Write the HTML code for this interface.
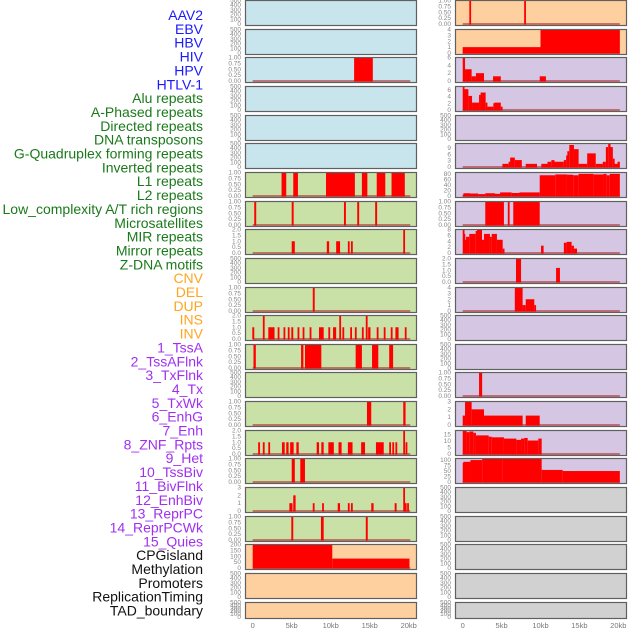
<!DOCTYPE html>
<html><head><meta charset="utf-8"><style>
html,body{margin:0;padding:0;background:#fff;}
#wrap{position:relative;width:630px;height:630px;overflow:hidden;}
svg{position:absolute;left:0;top:0;}
text{font-family:"Liberation Sans",sans-serif;}
</style></head><body>
<div id="wrap">
<svg id="chart" width="630" height="630" viewBox="0 0 630 630"></svg>
</div>
<script>
// ---- data ----
const trackLabels = ["AAV2","EBV","HBV","HIV","HPV","HTLV-1","Alu repeats","A-Phased repeats","Directed repeats","DNA transposons","G-Quadruplex forming repeats","Inverted repeats","L1 repeats","L2 repeats","Low_complexity A/T rich regions","Microsatellites","MIR repeats","Mirror repeats","Z-DNA motifs","CNV","DEL","DUP","INS","INV","1_TssA","2_TssAFlnk","3_TxFlnk","4_Tx","5_TxWk","6_EnhG","7_Enh","8_ZNF_Rpts","9_Het","10_TssBiv","11_BivFlnk","12_EnhBiv","13_ReprPC","14_ReprPCWk","15_Quies","CPGisland","Methylation","Promoters","ReplicationTiming","TAD_boundary"];
const labelGroups = ["virus","virus","virus","virus","virus","virus","repeat","repeat","repeat","repeat","repeat","repeat","repeat","repeat","repeat","repeat","repeat","repeat","repeat","sv","sv","sv","sv","sv","chrom","chrom","chrom","chrom","chrom","chrom","chrom","chrom","chrom","chrom","chrom","chrom","chrom","chrom","chrom","other","other","other","other","other"];
const xTickValues = [0,5,10,15,20];
const xTickLabels = ["0","5kb","10kb","15kb","20kb"];

// left column: background kind per row, y max per row, segments [startKb,endKb,value]
const leftBg = ["blue","blue","blue","blue","blue","blue","green","green","green","green","green","green","green","green","green","green","green","green","green","orange","orange","orange"];
const leftMax = [0,0,1,0,0,0,1,1,2,0,1,2,1,0,1,2,1,3,1,200,0,0];
const leftSeg = [
 [],[],
 [[13.0,15.4,1]],
 [],[],[],
 [[3.7,4.3,1],[5.2,5.8,1],[9.4,13.1,1],[14.0,14.7,1],[15.9,17.0,1],[17.8,19.5,1]],
 [[0.2,0.45,1],[5.0,5.25,1],[11.7,11.95,1],[13.4,13.65,1],[15.7,15.95,1]],
 [[5.0,5.4,1],[9.5,9.8,1],[10.7,11.2,1],[12.2,12.4,1],[12.6,12.8,1],[19.3,19.5,2]],
 [],
 [[7.7,7.95,1]],
 [[-0.05,0.2,1],[1.3,1.5,2],[2.0,2.8,1],[3.2,3.4,1],[3.95,4.15,1],[4.5,4.7,1],[4.95,5.2,1],[5.75,5.95,1],[6.4,6.6,1],[7.3,7.5,1],[8.5,9.1,1],[9.7,9.9,1],[10.3,10.7,1],[11.1,11.3,2],[11.5,11.7,1],[12.5,12.7,1],[13.1,13.3,1],[14.0,14.2,1],[14.5,14.7,2],[14.8,15.1,1],[15.9,16.1,1],[16.8,17.0,1],[17.7,17.9,1],[18.3,18.7,1],[19.5,19.7,1]],
 [[0.1,0.4,1],[6.2,6.5,1],[6.7,8.8,1],[13.2,14.0,1],[15.3,16.1,1],[17.5,18.0,1]],
 [],
 [[14.65,15.2,1],[19.3,19.6,1]],
 [[0.7,0.9,1],[1.3,1.5,1],[2.0,2.2,1],[3.75,4.1,1],[4.3,4.6,1],[4.8,5.25,1],[5.6,5.9,1],[8.2,8.5,1],[8.8,9.1,1],[9.7,10.4,1],[11.0,11.4,1],[12.2,12.8,1],[13.9,14.4,1],[15.8,16.8,1],[17.5,17.7,1],[17.9,18.1,1],[18.3,18.5,1],[19.3,19.5,2],[19.6,19.8,1]],
 [[5.0,5.4,1],[6.1,6.7,1]],
 [[4.7,5.1,1],[5.2,5.5,2],[7.7,7.9,1],[8.9,9.1,1],[10.9,11.2,1],[12.2,12.4,1],[12.6,12.8,1],[15.2,15.5,1],[18.2,18.45,1],[19.3,19.5,3],[19.5,19.6,1],[19.8,20.0,1]],
 [[4.95,5.2,1],[8.75,9.1,1],[14.5,14.75,1]],
 [[0,10.2,200],[10.2,20.1,80]],
 [],[]
];

const rightBg = ["orange","orange","purple","purple","purple","purple","purple","purple","purple","purple","purple","purple","purple","purple","purple","purple","purple","gray","gray","gray","gray","gray"];
const rightMax = [1,4,6,7,0,11.2,85,1,8,2,4,0,0,1,3,18.3,107,0,0,0,0,0];
const rightSeg = [
 [[0.85,1.05,1],[7.9,8.1,1]],
 [[0,10.0,1],[10.0,20.2,4]],
 [[0,0.3,6],[0.3,1.15,3],[1.15,1.7,1.2],[1.7,2.74,2],[3.9,4.9,1.2],[9.9,10.7,1.2]],
 [[0,0.17,7],[0.17,0.73,6.2],[0.73,1.2,4.2],[1.2,2.1,2.2],[2.1,2.3,4.5],[2.3,2.95,5.2],[2.95,3.17,2.2],[3.17,3.94,1],[3.94,4.07,2],[4.07,4.9,2.2],[4.9,5.1,1]],
 [],
 [[5.1,5.9,1.5],[5.9,6.1,2.5],[6.1,6.7,4.5],[6.7,7.6,3.3],[8.1,9.55,1.5],[10.1,10.9,1.5],[10.9,11.4,2.5],[11.4,11.8,3.3],[11.8,13.0,2.5],[13.0,13.3,3.3],[13.3,13.45,5.5],[13.45,13.7,7.5],[13.7,14.3,10.5],[14.3,14.9,8.5],[14.9,16.0,1.5],[16.0,17.1,6.5],[17.1,18.0,1.5],[18.0,18.4,2.5],[18.4,18.7,9.5],[18.7,19.0,11],[19.0,19.3,9.5],[19.3,19.5,4],[19.5,19.9,1.5],[19.9,20.2,2.5]],
 [[0,0.1,5],[0.1,0.94,10],[0.94,2.0,9],[2.0,2.9,7],[2.9,4.15,10],[4.15,4.8,8],[4.8,6.3,13],[6.3,7.3,11],[7.3,9.9,13],[9.9,11.9,75],[11.9,13.4,78],[13.4,14.2,77],[14.2,14.9,75],[14.9,16.8,80],[16.8,18.1,78],[18.1,18.5,80],[18.5,18.9,75],[18.9,20.2,80]],
 [[2.9,5.3,1],[5.8,6.0,1],[6.5,9.9,1]],
 [[0,0.1,8],[0.1,0.26,6.5],[0.26,0.43,4.5],[0.43,0.85,5.5],[0.85,1.67,6.5],[1.67,1.84,7.5],[1.84,2.48,8],[2.48,2.74,4.5],[2.74,3.5,6.5],[3.5,3.73,5.5],[3.73,4.4,6.5],[4.4,5.14,4.5],[5.14,5.27,1.5],[10.07,10.4,2.5],[13.0,13.36,3.5],[13.36,14.0,3.8],[14.0,14.3,2.5],[14.3,14.7,1.5]],
 [[6.85,7.5,2],[12.0,12.5,1.2]],
 [[6.7,7.7,4],[7.7,8.1,1],[8.1,9.2,2],[9.2,9.4,1]],
 [],[],
 [[2.1,2.5,1]],
 [[0,0.3,1.2],[0.3,1.15,3],[1.15,2.74,2],[2.74,7.7,1.2],[8.1,9.9,1.2]],
 [[0,0.5,18],[0.5,0.85,17],[0.85,1.37,17.5],[1.37,1.7,16.5],[1.7,3.34,14.5],[3.34,3.73,13.5],[3.73,5.3,13],[5.3,6.9,12],[6.9,7.5,11],[7.5,7.9,12],[7.9,8.35,12.5],[8.35,9.72,10.5],[9.72,10.15,12]],
 [[0,0.1,88],[0.1,1.0,92],[1.0,2.5,100],[2.5,5.1,105],[5.1,10.15,107],[10.15,12.85,55],[12.85,20.2,50]],
 [],[],[],[],[]
];
const yTickSets = {
 "0":["0","100","200","300","400","500"],
 "1":["0.00","0.25","0.50","0.75","1.00"],
 "2":["0.0","0.5","1.0","1.5","2.0"],
 "3":["0","1","2","3"],
 "4":["0","1","2","3","4"],
 "6":["0","2","4","6"],
 "7":["0","2","4","6"],
 "8":["0","2","4","6","8"],
 "11.2":["0","3","6","9"],
 "85":["0","20","40","60","80"],
 "18.3":["0","5","10","15"],
 "107":["0","25","50","75","100"],
 "200":["0","50","100","150","200"]
};

// ---- layout ----
const NS="http://www.w3.org/2000/svg";
const svg=document.getElementById('chart');
const bgColors={blue:"#c8e4ec",green:"#c9e1a6",orange:"#ffd09f",purple:"#d5c6e3",gray:"#d1d1d1"};
const labelColors={virus:"#1a1aff",repeat:"#1a7a1a",sv:"#ffa520",chrom:"#a030f0",other:"#111111"};
const cols=[{x0:245,x1:416,zero:252.7,pxPerKb:7.8,bg:leftBg,max:leftMax,seg:leftSeg,name:'left'},
            {x0:455,x1:626,zero:462.7,pxPerKb:7.78,bg:rightBg,max:rightMax,seg:rightSeg,name:'right'}];
function rowTop(i){return Math.round(i*28.65);}
function rowH(i){return i===21?16:25;}
function mk(tag,attrs){const e=document.createElementNS(NS,tag);for(const k in attrs)e.setAttribute(k,attrs[k]);return e;}

// labels
trackLabels.forEach((t,i)=>{
  const el=mk('text',{x:203,y:(15+i*13.85+5).toFixed(1),'text-anchor':'end','font-size':'14',fill:labelColors[labelGroups[i]]});
  el.textContent=t;
  
  
  svg.appendChild(el);
});

cols.forEach(c=>{
  const xs=kb=>c.zero+kb*c.pxPerKb;
  for(let i=0;i<22;i++){
    const top=rowTop(i)+0.5,h=rowH(i),bot=top+h;
    const g=mk('g',{});
    
    
    svg.appendChild(g);
    const rect=mk('rect',{x:c.x0+0.5,y:top,width:c.x1-c.x0,height:h,fill:bgColors[c.bg[i]],stroke:'none'});
    
    
    g.appendChild(rect);
    const max=c.max[i];
    const base=bot-1.5, span=h-1.5;
    const ys=v=>base-(max?v/max:0)*span;
    // ticks
    const ticks=yTickSets[String(max)]||yTickSets["0"];
    const tmax=max===0?500:max;
    ticks.forEach(tl=>{
      const v=parseFloat(tl);
      const yy=max===0?base-(v/500)*span:ys(v);
      const t=mk('text',{x:c.x0-4,y:(yy+2).toFixed(1),'text-anchor':'end','font-size':'6.5',fill:'#888'});
      t.textContent=tl;
      
      
      g.appendChild(t);
    });
    if(c.seg[i].length){
      const bl=mk('line',{x1:xs(0),x2:xs(20.2),y1:base,y2:base,stroke:'#b0303099','stroke-width':2});
      
      
      g.appendChild(bl);
    }
    c.seg[i].forEach(s=>{
      const x1=xs(s[0]),x2=xs(s[1]);
      const w=Math.max(1.8,x2-x1);
      const yy=ys(s[2]);
      const b=mk('rect',{x:x1.toFixed(2),y:yy.toFixed(2),width:w.toFixed(2),height:(base-yy+0.5).toFixed(2),fill:'#ff0000'});
      
      
      g.appendChild(b);
    });
    const border=mk('rect',{x:c.x0+0.5,y:top,width:c.x1-c.x0,height:h,fill:'none',stroke:'#606060','stroke-width':1.2});
    
    
    g.appendChild(border);
  }
  xTickValues.forEach((v,k)=>{
    const t=mk('text',{x:xs(v).toFixed(1),y:628,'text-anchor':'middle','font-size':'7.5',fill:'#777'});
    t.textContent=xTickLabels[k];
    
    
    svg.appendChild(t);
  });
});
</script>
</body></html>
